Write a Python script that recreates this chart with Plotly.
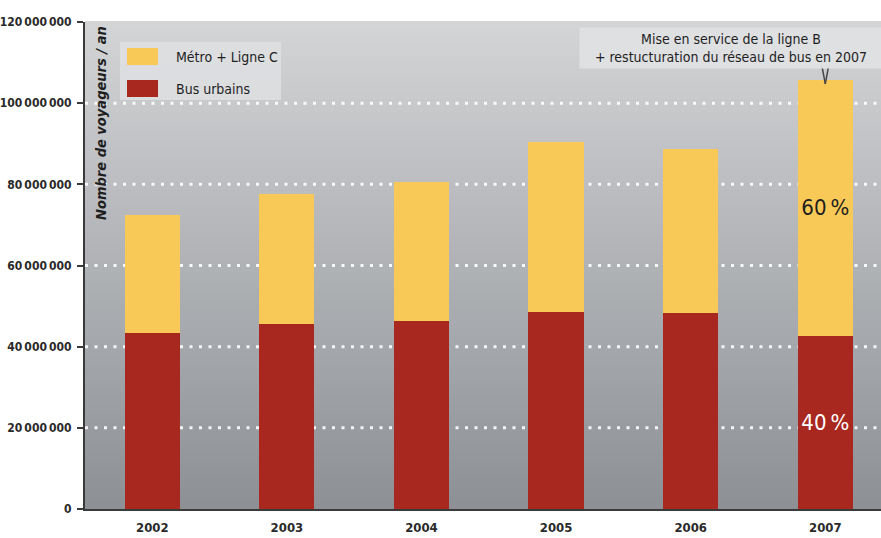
import plotly.graph_objects as go

# ---- data ----
years = ["2002", "2003", "2004", "2005", "2006", "2007"]
bus_urbains = [43.3e6, 45.5e6, 46.3e6, 48.6e6, 48.2e6, 42.7e6]
metro_ligne_c = [29.2e6, 32.1e6, 34.2e6, 41.8e6, 40.5e6, 63.1e6]
bus_labels = ["", "", "", "", "", "40\u2009%"]
metro_labels = ["", "", "", "", "", "60\u2009%"]
y_tick_vals = [0, 20e6, 40e6, 60e6, 80e6, 100e6, 120e6]
y_tick_text = ["0", "20\u2009000\u2009000", "40\u2009000\u2009000", "60\u2009000\u2009000",
               "80\u2009000\u2009000", "100\u2009000\u2009000", "120\u2009000\u2009000"]
grid_vals = [20e6, 40e6, 60e6, 80e6, 100e6]
legend_names = ["Métro + Ligne C", "Bus urbains"]
note_text = "Mise en service de la ligne B<br>+ restucturation du réseau de bus en 2007"
y_title = "Nombre de voyageurs / an"

# ---- styling ----
FONT = "DejaVu Sans Condensed, Liberation Sans Narrow, DejaVu Sans, sans-serif"
YELLOW = "#f8c957"
RED = "#a8281f"
INK = "#1e1e1e"
W, H = 881, 538
ML, MR, MT, MB = 85, 0, 22, 29
PW, PH = W - ML - MR, H - MT - MB
X_RANGE = [-0.5, 5.414]


def px_x(px):
    return (px - ML) / PW


def px_y(py):
    return (H - MB - py) / PH


fig = go.Figure()
fig.add_trace(go.Bar(
    x=years, y=bus_urbains, name=legend_names[1], marker_color=RED,
    marker_line_width=0,
    text=bus_labels, textposition="inside", insidetextanchor="middle",
    textangle=0, constraintext="none",
    textfont=dict(family=FONT, size=22, color="white"),
    showlegend=False, width=0.41, hoverinfo="skip",
))
fig.add_trace(go.Bar(
    x=years, y=metro_ligne_c, name=legend_names[0], marker_color=YELLOW,
    marker_line_width=0,
    text=metro_labels, textposition="inside", insidetextanchor="middle",
    textangle=0, constraintext="none",
    textfont=dict(family=FONT, size=22, color=INK),
    showlegend=False, width=0.41, hoverinfo="skip",
))

shapes = []
# background vertical gradient (light at top, darker at bottom)
top_c = (211, 212, 214)
bot_c = (140, 144, 149)
N = 70
for i in range(N):
    f = (i + 0.5) / N
    c = tuple(int(round(bot_c[k] + (top_c[k] - bot_c[k]) * f)) for k in range(3))
    shapes.append(dict(type="rect", xref="paper", yref="paper",
                       x0=0, x1=1, y0=i / N, y1=(i + 1) / N + 0.002,
                       fillcolor="rgb(%d,%d,%d)" % c, line_width=0, layer="below"))
# dotted white gridlines
for gv in grid_vals:
    shapes.append(dict(type="line", xref="paper", yref="y", x0=0, x1=1, y0=gv, y1=gv,
                       line=dict(color="rgba(255,255,255,0.9)", width=3, dash="3px,6.5px"),
                       layer="between"))
# custom legend box and swatches
shapes.append(dict(type="rect", xref="paper", yref="paper",
                   x0=px_x(120), x1=px_x(281), y0=px_y(100), y1=px_y(42),
                   fillcolor="rgba(222,223,225,0.9)", line_width=0, layer="above"))
shapes.append(dict(type="rect", xref="paper", yref="paper",
                   x0=px_x(127), x1=px_x(158), y0=px_y(65), y1=px_y(48),
                   fillcolor=YELLOW, line_width=0, layer="above"))
shapes.append(dict(type="rect", xref="paper", yref="paper",
                   x0=px_x(127), x1=px_x(158), y0=px_y(97), y1=px_y(80),
                   fillcolor=RED, line_width=0, layer="above"))
# callout pointer (small V) from the note box down onto the 2007 bar
idx_2007 = len(years) - 1
unit_px = PW / (X_RANGE[1] - X_RANGE[0])
for dx in (-3.5, 3.5):
    shapes.append(dict(type="line", xref="x", yref="paper",
                       x0=idx_2007 + dx / unit_px, x1=idx_2007,
                       y0=px_y(65), y1=px_y(84),
                       line=dict(color="#444444", width=1.4), layer="above"))

annotations = [
    dict(text=legend_names[0], xref="paper", yref="paper", x=px_x(174), y=px_y(57),
         xanchor="left", yanchor="middle", showarrow=False,
         font=dict(family=FONT, size=14, color=INK)),
    dict(text=legend_names[1], xref="paper", yref="paper", x=px_x(174), y=px_y(89),
         xanchor="left", yanchor="middle", showarrow=False,
         font=dict(family=FONT, size=14, color=INK)),
    dict(text=y_title, xref="paper", yref="paper", x=0, xshift=16, y=1, yshift=-2,
         xanchor="center", yanchor="top", textangle=-90, showarrow=False,
         font=dict(family=FONT, size=14.5, color=INK, weight="bold", style="italic")),
    dict(text=note_text, xref="paper", yref="paper", x=px_x(731), y=px_y(48),
         xanchor="center", yanchor="middle", showarrow=False, align="center",
         bgcolor="rgba(223,224,226,0.97)", borderpad=2, width=298, height=36,
         font=dict(family=FONT, size=14, color=INK)),
]

fig.update_layout(
    template="none",
    width=W, height=H,
    margin=dict(l=ML, r=MR, t=MT, b=MB, autoexpand=False),
    paper_bgcolor="white", plot_bgcolor="rgba(0,0,0,0)",
    barmode="stack",
    showlegend=False,
    shapes=shapes,
    annotations=annotations,
    font=dict(family=FONT, color=INK),
    xaxis=dict(type="category", range=X_RANGE, showgrid=False, showline=True,
               linecolor="#3a3a3a", linewidth=2, ticks="", ticklabelstandoff=5,
               automargin=False, zeroline=False,
               tickfont=dict(family=FONT, size=13, color="#2a2a2a", weight="bold")),
    yaxis=dict(range=[0, 120e6], tickmode="array", tickvals=y_tick_vals, ticktext=y_tick_text,
               showgrid=False, zeroline=False, showline=True, linecolor="#3a3a3a",
               linewidth=2, ticks="outside", ticklen=6, tickwidth=1.5, tickcolor="#3a3a3a",
               ticklabelstandoff=3, automargin=False,
               tickfont=dict(family=FONT, size=12, color="#2a2a2a", weight="bold")),
)

fig.write_html("out.html", config={"displayModeBar": False},
               post_script="document.body.style.margin='0';")
